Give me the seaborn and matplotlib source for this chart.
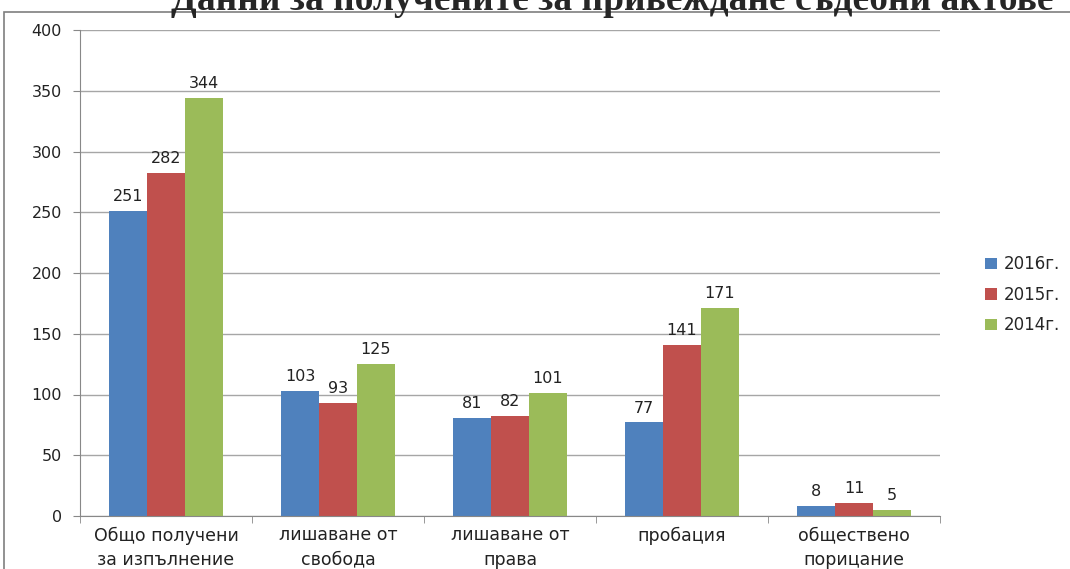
import matplotlib
matplotlib.use('Agg')
import matplotlib.pyplot as plt
import seaborn as sns
import pandas as pd
from matplotlib.patches import Rectangle

categories = ["Общо получени\nза изпълнение", "лишаване от\nсвобода", "лишаване от\nправа",
              "пробация", "обществено\nпорицание"]
years = ["2016г.", "2015г.", "2014г."]
values_2016 = [251, 103, 81, 77, 8]
values_2015 = [282, 93, 82, 141, 11]
values_2014 = [344, 125, 101, 171, 5]
colors = ["#4F81BD", "#C0504D", "#9BBB59"]
title = "Данни за получените за привеждане съдебни актове"

rows = []
for year, vals in zip(years, [values_2016, values_2015, values_2014]):
    for cat, v in zip(categories, vals):
        rows.append({"category": cat, "year": year, "value": v})
df = pd.DataFrame(rows)

sns.set_style("white")
plt.rcParams['font.family'] = ['DejaVu Sans']

W, H = 1070, 569
fig = plt.figure(figsize=(W / 100, H / 100), dpi=100)
ax = fig.add_axes([80 / W, 53 / H, 860 / W, 486 / H])

sns.barplot(data=df, x="category", y="value", hue="year", palette=colors,
            width=0.66, gap=0, saturation=1, ax=ax, errorbar=None, linewidth=0)

for cont in ax.containers:
    ax.bar_label(cont, padding=5, fontsize=11.5, color="#222222")

ax.set_ylim(0, 400)
ax.set_xlim(-0.5, len(categories) - 0.5)
ax.set_yticks(range(0, 401, 50))
ax.yaxis.grid(True, color="#A6A6A6", linewidth=1)
ax.set_axisbelow(True)
ax.set_xlabel("")
ax.set_ylabel("")
for side in ["top", "right"]:
    ax.spines[side].set_visible(False)
for side in ["left", "bottom"]:
    ax.spines[side].set_color("#888888")

ax.tick_params(axis="y", left=True, length=5, color="#888888", labelsize=11.5, pad=8,
               labelcolor="#222222")
ax.set_xticks([i for i in range(len(categories))])
ax.set_xticklabels(categories, fontsize=12.5, color="#222222", va="top", linespacing=1.45)
ax.tick_params(axis="x", bottom=False, pad=4)
ax.set_xticks([i - 0.5 for i in range(len(categories) + 1)], minor=True)
ax.tick_params(axis="x", which="minor", bottom=True, length=5, color="#888888")

ax.legend(loc="center left", bbox_to_anchor=(1.035, 0.455), frameon=False, fontsize=12,
          handlelength=0.7, handleheight=0.7, handletextpad=0.4, labelspacing=0.75)

fig.patches.append(Rectangle((4 / W, -0.1), 1.2, 1.1 - 12 / H, transform=fig.transFigure,
                             fill=False, edgecolor="#7F7F7F", linewidth=1.2))
fig.text(612 / W, 1 - 10 / H, title, ha="center", va="baseline", fontsize=27,
         fontweight="bold", family="Liberation Serif")

fig.savefig("out.png", dpi=100)
